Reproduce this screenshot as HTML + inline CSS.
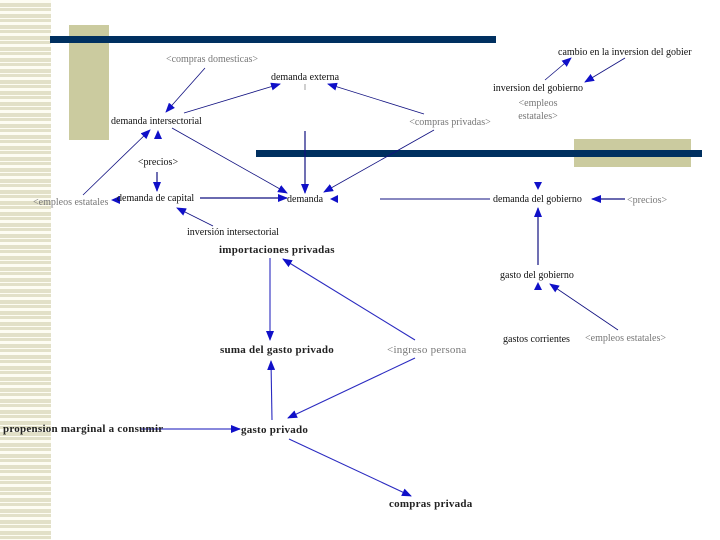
<!DOCTYPE html>
<html><head><meta charset="utf-8"><style>
html,body{margin:0;padding:0;background:#fff;}
body{width:720px;height:540px;overflow:hidden;position:relative;}
.stripes{position:absolute;left:0;top:0;width:51px;height:540px;
background:repeating-linear-gradient(to bottom,#fdfcf2 0px,#fdfcf2 3px,#e2e0c8 3px,#e2e0c8 7px,#fdfcf2 7px,#fdfcf2 8px,#e2e0c8 8px,#e2e0c8 11px);}
svg{position:absolute;left:0;top:0;}
text{font-family:"Liberation Serif",serif;font-size:10px;fill:#111;}
.g{fill:#777;}
.b{font-size:11px;font-weight:bold;fill:#222;letter-spacing:0.25px;}
</style></head><body>
<div class="stripes"></div>
<svg width="720" height="540" viewBox="0 0 720 540">
<defs>
<marker id="a" markerWidth="10" markerHeight="8" refX="9" refY="4" orient="auto" markerUnits="userSpaceOnUse">
<path d="M0,0 L10,4 L0,8 z" fill="#1010c8"/></marker>
</defs>
<rect x="69" y="25" width="40" height="115" fill="#cbcb9f"/>
<rect x="50" y="36" width="446" height="7" fill="#003060"/>
<rect x="574" y="139" width="117" height="28" fill="#cbcb9f"/>
<rect x="256" y="150" width="446" height="7" fill="#003060"/>

<g stroke="#101080" stroke-width="0.8" fill="none" marker-end="url(#a)">
<line x1="205" y1="68" x2="166" y2="112"/>
<line x1="184" y1="113" x2="280" y2="84"/>
<line x1="424" y1="114" x2="328" y2="84"/>
<line x1="305" y1="131" x2="305" y2="193" stroke-width="1.2"/>
<line x1="172" y1="128" x2="287" y2="193"/>
<line x1="434" y1="130" x2="324" y2="192"/>
<line x1="83" y1="195" x2="150" y2="130"/>
<line x1="157" y1="172" x2="157" y2="191" stroke-width="1.2"/>
<line x1="200" y1="198" x2="287" y2="198" stroke-width="1.2"/>
<line x1="213" y1="226" x2="177" y2="208"/>
<line x1="545" y1="80" x2="571" y2="58"/>
<line x1="625" y1="58" x2="585" y2="82"/>
<line x1="625" y1="199" x2="592" y2="199" stroke-width="1.2"/>
<line x1="538" y1="265" x2="538" y2="208" stroke-width="1.2"/>
<line x1="618" y1="330" x2="550" y2="284"/>
</g>
<g stroke="#2a2ac0" stroke-width="1.1" fill="none" marker-end="url(#a)">
<line x1="270" y1="258" x2="270" y2="340"/>
<line x1="272" y1="420" x2="271" y2="361"/>
<line x1="415" y1="340" x2="283" y2="259"/>
<line x1="415" y1="358" x2="288" y2="418"/>
<line x1="140" y1="429" x2="240" y2="429" stroke-width="1.6" stroke="#6060d0"/>
<line x1="289" y1="439" x2="411" y2="496"/>
</g>
<line x1="380" y1="199" x2="490" y2="199" stroke="#101080" stroke-width="1"/>
<line x1="305" y1="84" x2="305" y2="90" stroke="#888" stroke-width="0.8"/>
<g fill="#1010c8">
<path d="M154,139 L158,130 L162,139 z"/>
<path d="M534,290 L538,282 L542,290 z"/>
<path d="M534,182 L538,190 L542,182 z"/>
<path d="M338,195 L330,199 L338,203 z"/>
<path d="M120,196 L111,200 L120,204 z"/>
</g>

<text x="212" y="62" text-anchor="middle" class="g">&lt;compras domesticas&gt;</text>
<text x="305" y="80" text-anchor="middle">demanda externa</text>
<text x="111" y="124">demanda intersectorial</text>
<text x="450" y="125" text-anchor="middle" class="g">&lt;compras privadas&gt;</text>
<text x="493" y="91">inversion del gobierno</text>
<text x="538" y="106" text-anchor="middle" class="g">&lt;empleos</text>
<text x="538" y="119" text-anchor="middle" class="g">estatales&gt;</text>
<text x="558" y="55">cambio en la inversion del gobier</text>
<text x="158" y="165" text-anchor="middle" fill="#557">&lt;precios&gt;</text>
<text x="33" y="205" class="g">&lt;empleos estatales</text>
<text x="117" y="201">demanda de capital</text>
<text x="287" y="202">demanda</text>
<text x="493" y="202">demanda del gobierno</text>
<text x="627" y="203" class="g">&lt;precios&gt;</text>
<text x="187" y="235">inversión intersectorial</text>
<text x="500" y="278">gasto del gobierno</text>
<text x="503" y="342">gastos corrientes</text>
<text x="585" y="341" class="g">&lt;empleos estatales&gt;</text>
<text x="219" y="253" class="b">importaciones privadas</text>
<text x="220" y="353" class="b">suma del gasto privado</text>
<text x="387" y="353" class="b" style="fill:#777;font-weight:normal">&lt;ingreso persona</text>
<text x="3" y="432" class="b">propension marginal a consumir</text>
<text x="241" y="433" class="b">gasto privado</text>
<text x="389" y="507" class="b">compras privada</text>
</svg>
</body></html>
